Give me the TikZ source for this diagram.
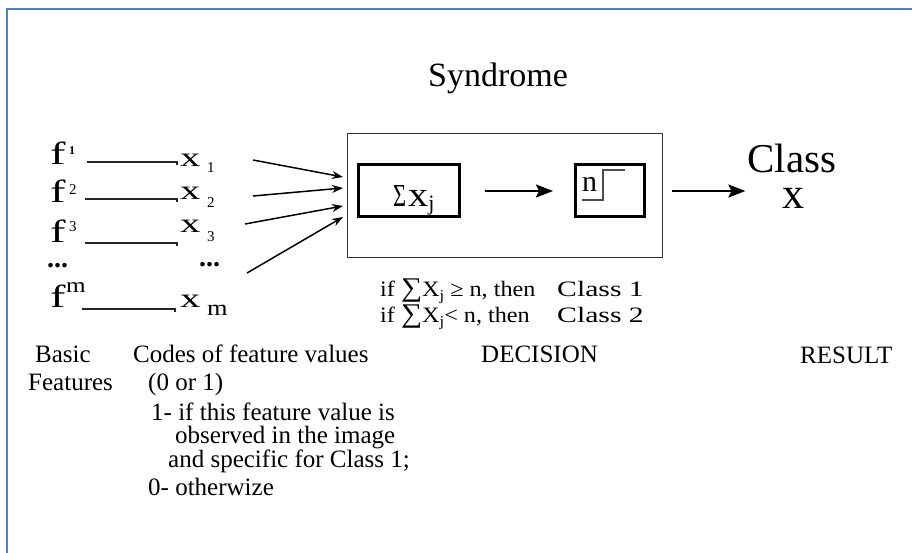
\documentclass[tikz,border=0pt]{standalone}
\usepackage{fontspec}
\setmainfont{Liberation Serif}
\usetikzlibrary{arrows.meta}
\newcommand\fsz[1]{\fontsize{#1}{#1}\selectfont}
\newcommand\hsc[2]{\scalebox{#1}[1]{#2}}
\definecolor{frameblue}{RGB}{79,129,189}
\begin{document}
\begin{tikzpicture}[x=1pt,y=-1pt,
  txt/.style={inner sep=0pt, anchor=base west},
  ctxt/.style={inner sep=0pt, anchor=base},
  outerbox/.style={draw=black!80, line width=1.4pt, inner sep=0pt, anchor=north west},
  innerbox/.style={draw=black, line width=2.6pt, inner sep=0pt, anchor=north west},
  fline/.style={line width=1.3pt, black!85},
  inarr/.style={line width=1.5pt, -{Stealth[length=11pt,width=8pt]}},
  bigarr/.style={line width=2pt, -{Stealth[length=17pt,width=13pt,inset=3pt]}},
  lbl/.style={txt, font=\fsz{25}},
  dotstxt/.style={txt, text height=5pt, text depth=0pt, font=\fsz{28}\bfseries}
]
\useasboundingbox (0,0) rectangle (915,553);
\fill[white] (0,0) rectangle (915,553);
% blue frame (top and left)
\draw[frameblue, line width=2.5pt] (7,553) -- (7,9) -- (912,9);

% title
\node[ctxt, font=\fsz{34}] (synd) at (498,87) {Syndrome};

% boxes
\node[outerbox, minimum width=315pt, minimum height=124pt] (outer) at (347,133) {};
\node[innerbox, minimum width=101pt, minimum height=52pt] (sum) at (357,163) {};
\node[innerbox, minimum width=69pt, minimum height=52pt] (thr) at (574,163) {};

% box contents
\node[txt] (sumtxt) at (393,207) {\hsc{0.7}{\fsz{32}Σ}\hspace{2pt}\hsc{1.15}{\fsz{35}x}\raisebox{-4pt}{\fsz{22}j}};
\node[txt, font=\fsz{30}] (ntxt) at (582,192) {n};
\draw[line width=1.3pt, black!70] (582,200) -- (603,200) -- (603,170) -- (625,170);

% result
\node[ctxt, font=\fsz{41}, text depth=0pt] (cls) at (792,173) {Class};
\node[ctxt, font=\fsz{44}, text height=18pt] (clx) at (793,209) {x};

% arrows in the box and to result
\draw[bigarr] ([xshift=24pt]sum.east |- 0,191) -- ([xshift=-21pt]thr.west |- 0,191);
\draw[bigarr] ([xshift=9pt]outer.east |- 0,191) -- ([xshift=-2pt]cls.west |- 0,191);

% features
\node[txt] (f1) at (50,165) {\hsc{1.45}{\fsz{32}f}};
\node[txt] (f1s) at (69,155) {\fsz{12}\bfseries 1};
\node[txt] (f2) at (50,203) {\hsc{1.45}{\fsz{32}f}};
\node[txt] (f2s) at (69,195) {\fsz{15}2};
\node[txt] (f3) at (50,243) {\hsc{1.45}{\fsz{32}f}};
\node[txt] (f3s) at (69,232) {\fsz{15}3};
\node[dotstxt] (fdots) at (47,268) {...};
\node[txt] (fm) at (50,307) {\hsc{1.45}{\fsz{32}f}};
\node[txt] (fms) at (66,292) {\hsc{1.2}{\fsz{21}m}};

% codes
\node[txt] (x1) at (180,167) {\hsc{1.5}{\fsz{27}x}};
\node[txt] (x1s) at (207,173) {\fsz{15}1};
\node[txt] (x2) at (180,200) {\hsc{1.5}{\fsz{27}x}};
\node[txt] (x2s) at (207,208) {\fsz{15}2};
\node[txt] (x3) at (180,233) {\hsc{1.5}{\fsz{27}x}};
\node[txt] (x3s) at (207,242) {\fsz{15}3};
\node[dotstxt] (xdots) at (199,266) {...};
\node[txt] (xm) at (180,307) {\hsc{1.5}{\fsz{27}x}};
\node[txt] (xms) at (207,315) {\hsc{1.2}{\fsz{22}m}};

% feature -> code lines
\coordinate (a1) at (87,162);  \coordinate (b1) at (177,162);
\coordinate (a2) at (85,199);  \coordinate (b2) at (177,199);
\coordinate (a3) at (85,243);  \coordinate (b3) at (177,243);
\coordinate (a4) at (82,309);  \coordinate (b4) at (175,309);
\foreach \i in {1,2,3,4}{
  \draw[fline] (a\i) -- (b\i) -- ++(0,3);
}

% code -> box arrows
\coordinate (s1) at (253,160); \coordinate (e1) at (343,177);
\coordinate (s2) at (253,196); \coordinate (e2) at (343,188);
\coordinate (s3) at (245,224); \coordinate (e3) at (343,206);
\coordinate (s4) at (247,273); \coordinate (e4) at (343,217);
\foreach \i in {1,2,3,4}{
  \draw[inarr] (s\i) -- (e\i);
}

% decision rule
\node[txt] (d1) at (380,296) {\hsc{1.1}{\fsz{22}if {\fsz{27}∑}X\raisebox{-4pt}{\fsz{15}j} ≥ n, then}};
\node[txt] (d1c) at (557,296) {\hsc{1.35}{\fsz{22}Class 1}};
\node[txt] (d2) at (380,322) {\hsc{1.1}{\fsz{22}if {\fsz{27}∑}X\raisebox{-4pt}{\fsz{15}j}< n, then}};
\node[txt] (d2c) at (557,322) {\hsc{1.35}{\fsz{22}Class 2}};

% bottom labels
\node[lbl] (basic) at (35,362) {Basic};
\node[lbl] (codes) at (133,362) {Codes of feature values};
\node[lbl] (decision) at (481,362) {DECISION};
\node[lbl] (result) at (800,363) {RESULT};
\node[lbl] (features) at (28,390) {Features};
\node[lbl] (zo) at (148,390) {(0 or 1)};
\node[lbl] (e1l) at (151,420) {1- if this feature value is};
\node[lbl] (e2l) at (175,443) {observed in the image};
\node[lbl] (e3l) at (168,467) {and specific for Class 1;};
\node[lbl] (e4l) at (148,495) {0- otherwize};
\end{tikzpicture}
\end{document}
